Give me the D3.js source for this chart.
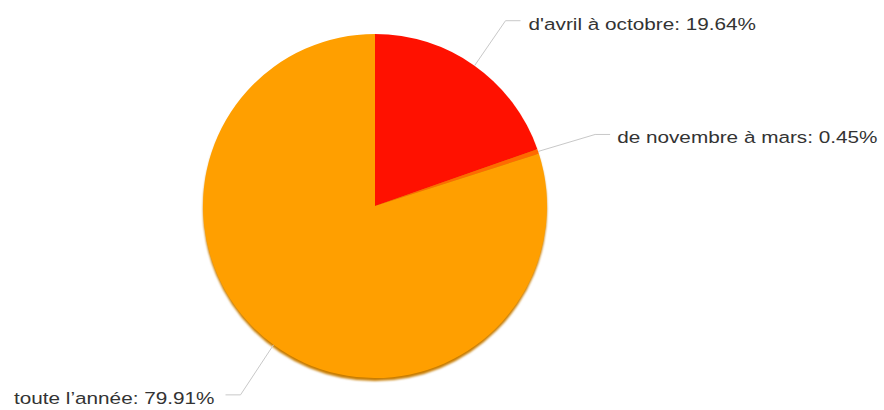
<!DOCTYPE html>
<html>
<head>
<meta charset="utf-8">
<script src="https://cdn.jsdelivr.net/npm/d3@7"></script>
<style>
  body { margin: 0; background: #fff; }
  text { font-family: "Liberation Sans", Arial, sans-serif; }
</style>
</head>
<body>
<svg id="drawing_region"></svg>
<script>
// slices, clockwise from 12 o'clock
const labels = ["d'avril à octobre", "de novembre à mars", "toute l\u2019année"];
const values = [19.64, 0.45, 79.91];
const colors = ["#ff1100", "#ff6a00", "#ff9f00"];

const width = 884, height = 410;
const cx = 375, cy = 206, radius = 172;

const svg = d3.select('#drawing_region')
    .attr('width', width)
    .attr('height', height);

const defs = svg.append('defs');
const f = defs.append('filter').attr('id', 'shadow')
    .attr('x', '-10%').attr('y', '-10%').attr('width', '120%').attr('height', '120%');
f.append('feGaussianBlur').attr('stdDeviation', 1);

const g = svg.append('g')
    .attr('transform', `translate(${cx}, ${cy})`);

// soft shadow under the pie
g.append('circle')
    .attr('cx', 0).attr('cy', 3)
    .attr('r', radius)
    .attr('fill', '#c77c00')
    .attr('filter', 'url(#shadow)');

const pie = d3.pie().sort(null).value(d => d.value);
const arc = d3.arc().innerRadius(0).outerRadius(radius);

const data = labels.map((l, i) => ({label: l, value: values[i], color: colors[i]}));
const arcs = pie(data);

g.selectAll('path.slice')
    .data(arcs)
    .enter()
    .append('path')
    .attr('class', 'slice')
    .attr('d', arc)
    .attr('fill', d => d.data.color);

// connector elbows and label offsets (relative to slice edge)
const elbow = [
    {dx: 31, dy: -45, len: 15, tx: 8},
    {dx: 57, dy: -17, len: 15, tx: 7},
    {dx: -33, dy: 50, len: 15, tx: 11}
];

arcs.forEach((d, i) => {
    const a = (d.startAngle + d.endAngle) / 2;
    const x0 = radius * Math.sin(a), y0 = -radius * Math.cos(a);
    const right = x0 > 0;
    const x1 = x0 + elbow[i].dx, y1 = y0 + elbow[i].dy;
    const x2 = x1 + (right ? elbow[i].len : -elbow[i].len);
    g.append('path')
        .attr('d', `M${x0},${y0}L${x1},${y1}L${x2},${y1}`)
        .attr('fill', 'none')
        .attr('stroke', '#c8c8c8')
        .attr('stroke-width', 1);
    const tx = x2 + (right ? elbow[i].tx : -elbow[i].tx);
    // label font in the reference runs wider than Liberation Sans
    g.append('text')
        .attr('transform', `translate(${tx}, ${y1 + 3}) scale(1.22, 1)`)
        .attr('dy', '0.35em')
        .attr('text-anchor', right ? 'start' : 'end')
        .attr('font-size', '17px')
        .attr('fill', '#333')
        .text(`${d.data.label}: ${d3.format('.2f')(d.data.value)}%`);
});
</script>
</body>
</html>
